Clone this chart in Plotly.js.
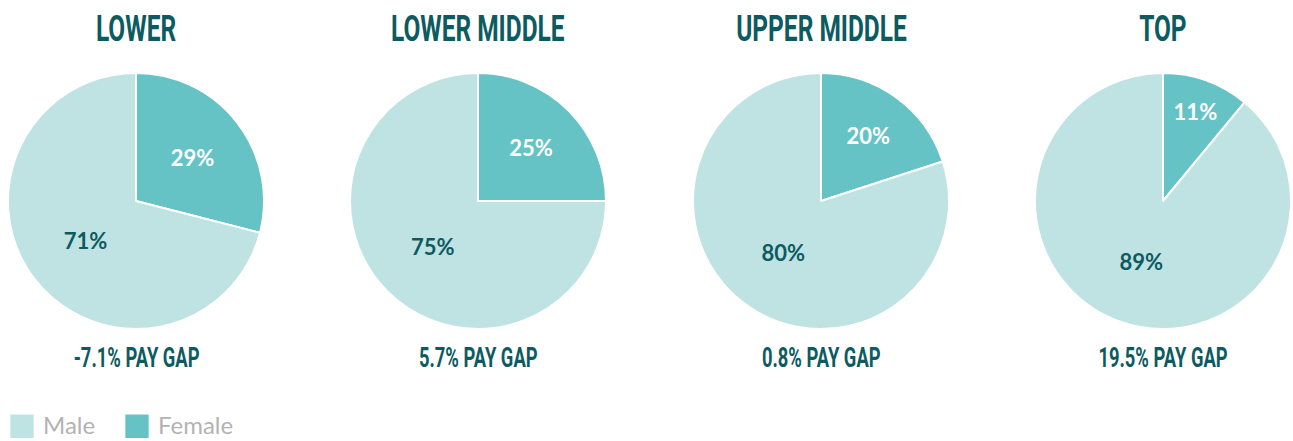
<!DOCTYPE html>
<html><head><meta charset="utf-8">
<script src="https://cdn.plot.ly/plotly-3.0.1.min.js"></script>
<style>
html,body{margin:0;padding:0;background:#fff;}
#chart{width:1293px;height:441px;}
#chart .annotation-text{transform-box:fill-box;transform-origin:center;transform:scaleX(0.68);}
#chart .legendpoints path{transform-box:fill-box;transform-origin:center;transform:translate(19px,2px) scale(2.33);}
</style>
</head><body><div id="chart"></div>
<script>
const groups = ['LOWER', 'LOWER MIDDLE', 'UPPER MIDDLE', 'TOP'];
const labels = ['Female', 'Male'];
const femaleShare = [29, 25, 20, 11];
const maleShare = [71, 75, 80, 89];
const payGap = ['-7.1% PAY GAP', '5.7% PAY GAP', '0.8% PAY GAP', '19.5% PAY GAP'];

const W = 1293, H = 441;
const centers = [136, 478, 821, 1163];
const R = 128, cy = 201;
const maleColor = '#bfe2e3', femaleColor = '#65c3c6', dark = '#0c5b61';
const titleFont = {family: 'Roboto, sans-serif', size: 36, color: dark, weight: 700};

const data = groups.map((g, i) => ({
  type: 'pie',
  labels: labels,
  values: [femaleShare[i], maleShare[i]],
  sort: false,
  direction: 'clockwise',
  rotation: 0,
  marker: {colors: [femaleColor, maleColor], line: {color: '#ffffff', width: 2}},
  texttemplate: '%{value}%',
  textposition: 'inside',
  insidetextorientation: 'horizontal',
  insidetextfont: {family: 'Lato, sans-serif', size: 22, color: ['#ffffff', dark], weight: 700},
  hoverinfo: 'label+value',
  showlegend: i === 0,
  domain: {x: [(centers[i] - R) / W, (centers[i] + R) / W], y: [1 - (cy + R) / H, 1 - (cy - R) / H]}
}));

const annotations = [];
groups.forEach((g, i) => {
  annotations.push({text: g, x: centers[i] / W, y: 1 - 29 / H, xref: 'paper', yref: 'paper', showarrow: false, xanchor: 'center', yanchor: 'middle', font: titleFont});
  annotations.push({text: payGap[i], x: centers[i] / W, y: 1 - 358 / H, xref: 'paper', yref: 'paper', showarrow: false, xanchor: 'center', yanchor: 'middle', font: Object.assign({}, titleFont, {size: 27})});
});

const layout = {
  width: W, height: H,
  margin: {l: 0, r: 0, t: 0, b: 0, autoexpand: false},
  paper_bgcolor: '#fff',
  showlegend: true,
  legend: {orientation: 'h', traceorder: 'reversed', x: 3 / W, xanchor: 'left', y: -0.014, yanchor: 'bottom', font: {family: 'Lato, sans-serif', size: 24, color: '#b3b3b3'}, entrywidth: 70, entrywidthmode: 'pixels', itemwidth: 30, tracegroupgap: 0},
  annotations: annotations
};
Plotly.newPlot('chart', data, layout, {displayModeBar: false});
</script></body></html>
